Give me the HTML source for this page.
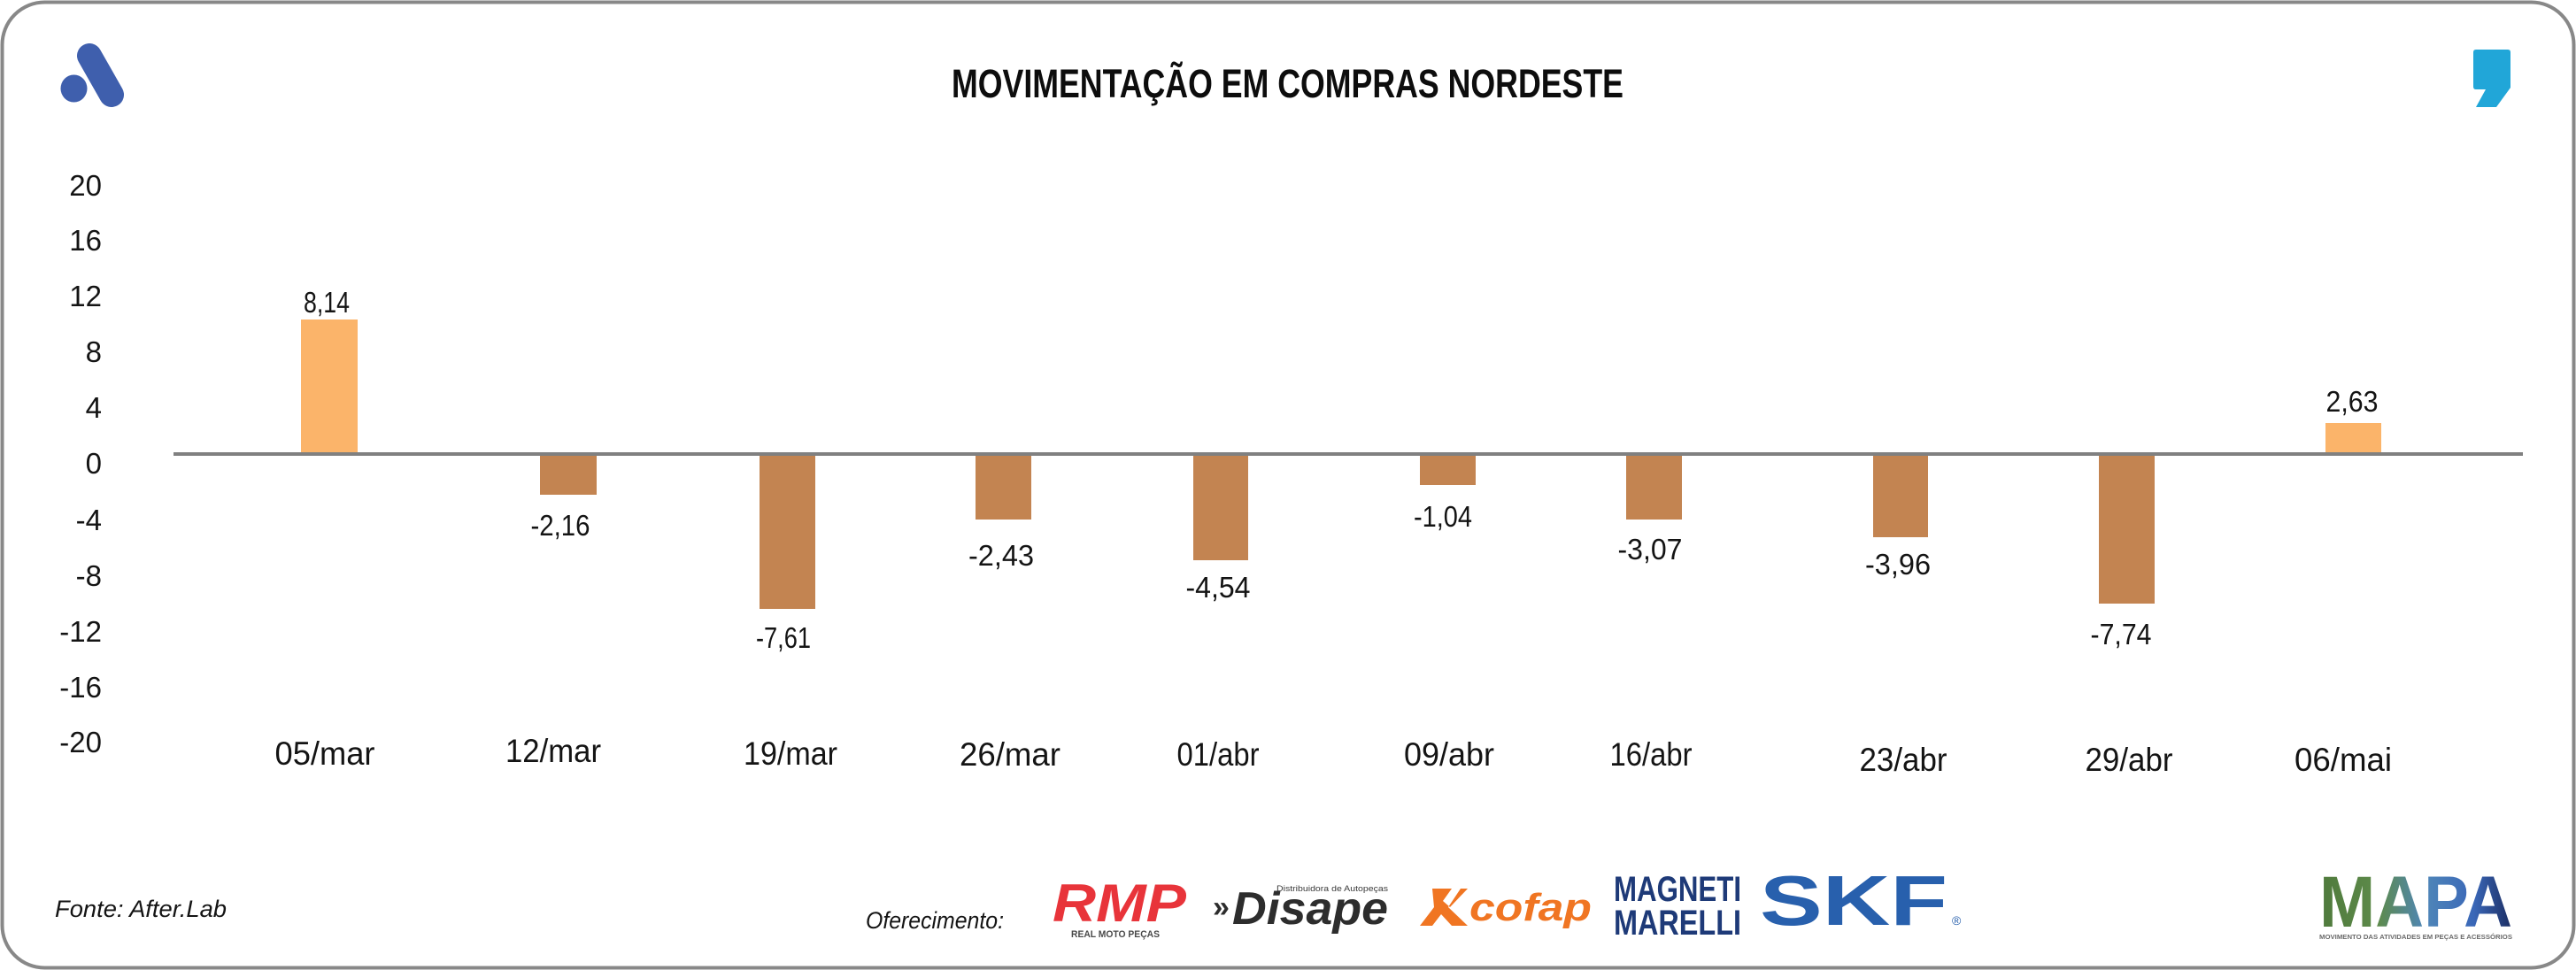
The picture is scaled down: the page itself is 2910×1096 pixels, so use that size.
<!DOCTYPE html>
<html>
<head>
<meta charset="utf-8">
<style>
  html, body { margin: 0; padding: 0; background: #ffffff; }
  body { width: 2910px; height: 1096px; overflow: hidden; }
  svg { display: block; }
  .t { font-family: "Liberation Sans", "DejaVu Sans", sans-serif; fill: #141414; }
</style>
</head>
<body>
<svg width="2910" height="1096" viewBox="0 0 2910 1096" xmlns="http://www.w3.org/2000/svg">
  <defs>
    <linearGradient id="mapaGrad" x1="0" y1="0" x2="1" y2="0">
      <stop offset="0" stop-color="#4f7a3c"/>
      <stop offset="0.3" stop-color="#5d8a4a"/>
      <stop offset="0.55" stop-color="#4f86b8"/>
      <stop offset="0.8" stop-color="#3a67b8"/>
      <stop offset="1" stop-color="#1c2d62"/>
    </linearGradient>
  </defs>

  <rect x="0" y="0" width="2910" height="1096" fill="#ffffff"/>
  <!-- border -->
  <rect x="2.5" y="2.5" width="2905" height="1091" rx="48" ry="48" fill="none" stroke="#888888" stroke-width="4"/>

  <!-- blue A logo -->
  <line x1="101" y1="63" x2="126" y2="107" stroke="#3f5fad" stroke-width="28" stroke-linecap="round"/>
  <ellipse cx="83.5" cy="100" rx="15" ry="15.5" fill="#3f5fad"/>

  <!-- comma logo -->
  <path d="M2797,56 H2833 Q2836,56 2836,59 V99 L2820,121 H2797 L2808,101 H2797 Q2794,101 2794,98 V59 Q2794,56 2797,56 Z" fill="#21a6d8"/>

  <!-- title -->
  <text class="t" x="1075" y="110" font-size="45" font-weight="bold" textLength="759" lengthAdjust="spacingAndGlyphs" style="fill:#0d0d0d">MOVIMENTAÇÃO EM COMPRAS NORDESTE</text>

  <!-- y axis labels -->
  <g class="t" font-size="33" text-anchor="end">
    <text class="t" x="115" y="221">20</text>
    <text class="t" x="115" y="283">16</text>
    <text class="t" x="115" y="346">12</text>
    <text class="t" x="115" y="409">8</text>
    <text class="t" x="115" y="472">4</text>
    <text class="t" x="115" y="535">0</text>
    <text class="t" x="115" y="599">-4</text>
    <text class="t" x="115" y="662">-8</text>
    <text class="t" x="115" y="725">-12</text>
    <text class="t" x="115" y="788">-16</text>
    <text class="t" x="115" y="850">-20</text>
  </g>

  <!-- bars -->
  <rect x="340" y="361" width="64" height="150" fill="#fbb46a"/>
  <rect x="610" y="514" width="64" height="45" fill="#c38451"/>
  <rect x="858" y="514" width="63" height="174" fill="#c38451"/>
  <rect x="1102" y="514" width="63" height="73" fill="#c38451"/>
  <rect x="1348" y="514" width="62" height="119" fill="#c38451"/>
  <rect x="1604" y="514" width="63" height="34" fill="#c38451"/>
  <rect x="1837" y="514" width="63" height="73" fill="#c38451"/>
  <rect x="2116" y="514" width="62" height="93" fill="#c38451"/>
  <rect x="2371" y="514" width="63" height="168" fill="#c38451"/>
  <rect x="2627" y="478" width="63" height="33" fill="#fbb46a"/>

  <!-- zero axis line -->
  <rect x="196" y="511" width="2654" height="4" fill="#808080"/>

  <!-- value labels -->
  <g class="t" font-size="33" text-anchor="middle">
    <text class="t" x="369" y="353" textLength="52" lengthAdjust="spacingAndGlyphs">8,14</text>
    <text class="t" x="633" y="605" textLength="67" lengthAdjust="spacingAndGlyphs">-2,16</text>
    <text class="t" x="885" y="732" textLength="62" lengthAdjust="spacingAndGlyphs">-7,61</text>
    <text class="t" x="1131" y="639" textLength="74" lengthAdjust="spacingAndGlyphs">-2,43</text>
    <text class="t" x="1376" y="675" textLength="73" lengthAdjust="spacingAndGlyphs">-4,54</text>
    <text class="t" x="1630" y="595" textLength="66" lengthAdjust="spacingAndGlyphs">-1,04</text>
    <text class="t" x="1864" y="632" textLength="73" lengthAdjust="spacingAndGlyphs">-3,07</text>
    <text class="t" x="2144" y="649" textLength="74" lengthAdjust="spacingAndGlyphs">-3,96</text>
    <text class="t" x="2396" y="728" textLength="69" lengthAdjust="spacingAndGlyphs">-7,74</text>
    <text class="t" x="2657" y="465" textLength="59" lengthAdjust="spacingAndGlyphs">2,63</text>
  </g>

  <!-- x axis labels -->
  <g class="t" font-size="37" text-anchor="middle">
    <text class="t" x="367" y="864" textLength="113" lengthAdjust="spacingAndGlyphs">05/mar</text>
    <text class="t" x="625" y="861" textLength="108" lengthAdjust="spacingAndGlyphs">12/mar</text>
    <text class="t" x="893" y="864" textLength="106" lengthAdjust="spacingAndGlyphs">19/mar</text>
    <text class="t" x="1141" y="865" textLength="114" lengthAdjust="spacingAndGlyphs">26/mar</text>
    <text class="t" x="1376" y="865" textLength="93" lengthAdjust="spacingAndGlyphs">01/abr</text>
    <text class="t" x="1637" y="865" textLength="102" lengthAdjust="spacingAndGlyphs">09/abr</text>
    <text class="t" x="1865" y="865" textLength="93" lengthAdjust="spacingAndGlyphs">16/abr</text>
    <text class="t" x="2150" y="871" textLength="99" lengthAdjust="spacingAndGlyphs">23/abr</text>
    <text class="t" x="2405" y="871" textLength="99" lengthAdjust="spacingAndGlyphs">29/abr</text>
    <text class="t" x="2647" y="871" textLength="110" lengthAdjust="spacingAndGlyphs">06/mai</text>
  </g>

  <!-- footer texts -->
  <text class="t" x="62" y="1036" font-size="27" font-style="italic" textLength="194" lengthAdjust="spacingAndGlyphs">Fonte: After.Lab</text>
  <text class="t" x="978" y="1049" font-size="27" font-style="italic" textLength="156" lengthAdjust="spacingAndGlyphs">Oferecimento:</text>

  <!-- RMP logo -->
  <text x="1189" y="1041" font-family="Liberation Sans, sans-serif" font-size="60" font-weight="bold" font-style="italic" fill="#e8343a" textLength="151" lengthAdjust="spacingAndGlyphs">RMP</text>
  <text x="1210" y="1059" font-family="Liberation Sans, sans-serif" font-size="11" font-weight="bold" fill="#4a4a4a" textLength="100" lengthAdjust="spacingAndGlyphs">REAL MOTO PEÇAS</text>

  <!-- Disape logo -->
  <text x="1370" y="1036" font-family="Liberation Sans, sans-serif" font-size="34" font-weight="bold" fill="#2d2d2d">»</text>
  <text x="1392" y="1044" font-family="Liberation Sans, sans-serif" font-size="52" font-weight="bold" font-style="italic" fill="#2d2d2d" textLength="176" lengthAdjust="spacingAndGlyphs">Disape</text>
  <text x="1442" y="1007" font-family="Liberation Sans, sans-serif" font-size="9" fill="#3a3a3a" textLength="126" lengthAdjust="spacingAndGlyphs">Distribuidora de Autopeças</text>

  <!-- cofap logo -->
  <path d="M1618,1004 H1640 L1630,1018 L1638,1025 L1658,1004 H1650 L1636,1025 L1658,1046 H1640 L1628,1033 L1618,1046 H1604 L1620,1025 Z" fill="#f07522"/>
  <text x="1660" y="1040" font-family="Liberation Sans, sans-serif" font-size="44" font-weight="bold" font-style="italic" fill="#f07522" textLength="138" lengthAdjust="spacingAndGlyphs">cofap</text>

  <!-- Magneti Marelli logo -->
  <text x="1823" y="1018" font-family="Liberation Sans, sans-serif" font-size="40" font-weight="bold" fill="#1e3a78" textLength="144" lengthAdjust="spacingAndGlyphs">MAGNETI</text>
  <text x="1823" y="1056" font-family="Liberation Sans, sans-serif" font-size="40" font-weight="bold" fill="#1e3a78" textLength="144" lengthAdjust="spacingAndGlyphs">MARELLI</text>

  <!-- SKF logo -->
  <text x="1988" y="1045" font-family="Liberation Sans, sans-serif" font-size="80" font-weight="bold" fill="#2860ad" textLength="212" lengthAdjust="spacingAndGlyphs">SKF</text>
  <text x="2205" y="1045" font-family="Liberation Sans, sans-serif" font-size="14" fill="#2860ad">®</text>

  <!-- MAPA logo -->
  <text x="2620" y="1047" font-family="Liberation Sans, sans-serif" font-size="82" font-weight="bold" fill="url(#mapaGrad)" textLength="218" lengthAdjust="spacingAndGlyphs">MAPA</text>
  <text x="2620" y="1061" font-family="Liberation Sans, sans-serif" font-size="7" font-weight="bold" fill="#6a6a6a" textLength="218" lengthAdjust="spacingAndGlyphs">MOVIMENTO DAS ATIVIDADES EM PEÇAS E ACESSÓRIOS</text>
</svg>
</body>
</html>
